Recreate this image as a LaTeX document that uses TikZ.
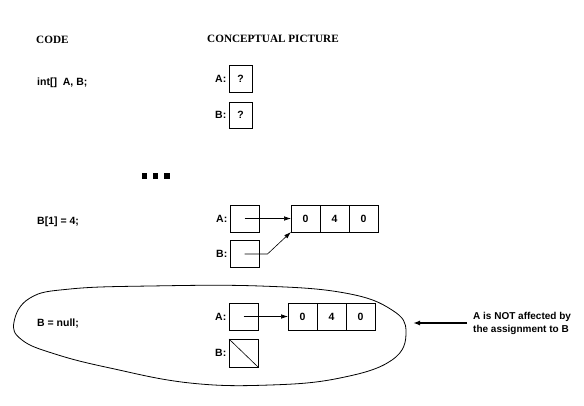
\documentclass[tikz,border=0pt]{standalone}
\usepackage{fontspec}
\setmainfont{Liberation Serif}
\setsansfont{Liberation Sans}
\usepackage{tikz}
\usetikzlibrary{arrows.meta,positioning}

\tikzset{
  txt/.style={anchor=west,inner sep=0pt,font=\sffamily\bfseries\fontsize{10.5}{12}\selectfont},
  head/.style={anchor=west,inner sep=0pt,font=\bfseries\fontsize{11.2}{14}\selectfont},
  cell/.style={draw,line width=0.8pt,minimum width=29pt,minimum height=27pt,inner sep=0pt,outer sep=0pt,
    font=\sffamily\bfseries\fontsize{10.5}{12}\selectfont},
  small cell/.style={cell,minimum width=23pt},
  lbl/.style={inner sep=2.5pt,font=\sffamily\bfseries\fontsize{10.5}{12}\selectfont},
  ptr/.style={line width=0.6pt,-{Latex[length=7pt,width=4.5pt]}}
}

\begin{document}
\begin{tikzpicture}[x=1pt,y=-1pt]
      \useasboundingbox (0,0) rectangle (584,405);
      % headings
      \node[head] (code) at (36,40) {CODE};
      \node[head] (concept) at (207,39) {CONCEPTUAL PICTURE};
      % int[] A, B;
      \node[txt] (decl) at (37,83) {int[]\ \ A, B;};
      \node[small cell] (a1) at (240.5,78.5) {?};
      \node[small cell,minimum height=26pt] (b1) at (240.5,115) {?};
      \node[lbl,left=0pt of a1] {A:};
      \node[lbl,left=0pt of b1] {B:};
      % dots
      \foreach \x in {144.5,155.5,167} \fill (\x-2.7,173) rectangle (\x+2.7,178.5);
      % B[1] = 4;
      \node[txt] (assign) at (37,222) {B[1] = 4;};
      \node[cell] (a2) at (244.5,218.5) {};
      \node[cell] (b2) at (244.5,254) {};
      \node[lbl,left=0pt of a2] {A:};
      \node[lbl,left=0pt of b2] {B:};
      \node[cell] (c21) at (305.5,218.5) {0};
      \node[cell,right=0pt of c21] (c22) {4};
      \node[cell,right=0pt of c22] (c23) {0};
      \draw[ptr] (a2.center) -- (c21.west);
      \draw[ptr] (b2.center) -- ++(23,0) -- (c21.south west);
      % B = null;
      \node[txt] (null) at (37,324) {B = null;};
      \node[cell] (a3) at (243.5,316.5) {};
      \node[cell,minimum height=28pt] (b3) at (243.5,353) {};
      \node[lbl,left=0pt of a3] {A:};
      \node[lbl,left=0pt of b3] {B:};
      \node[cell] (c31) at (302.5,316.5) {0};
      \node[cell,right=0pt of c31] (c32) {4};
      \node[cell,right=0pt of c32] (c33) {0};
      \draw[ptr] (a3.center) -- (c31.west);
      \draw[line width=0.6pt] (b3.north west) -- (b3.south east);
      % blob around the last step
      \draw[line width=0.8pt] plot[smooth cycle,tension=0.7] coordinates {(14,322) (30,298) (70,289) (150,286)
        (260,286) (345,293) (392,310) (406,332) (392,360) (340,378) (270,385) (190,383) (110,368) (55,354) (22,340)};
      % note
      \node[txt,align=left,font=\sffamily\bfseries\fontsize{10}{13}\selectfont] (note) at (473,323)
        {A is NOT affected by\\the assignment to B};
      \coordinate (tip) at (413,323);
      \draw[line width=1.6pt,-{Latex[length=7pt,width=5pt]}] (467,323) -- (tip);
\end{tikzpicture}
\end{document}
